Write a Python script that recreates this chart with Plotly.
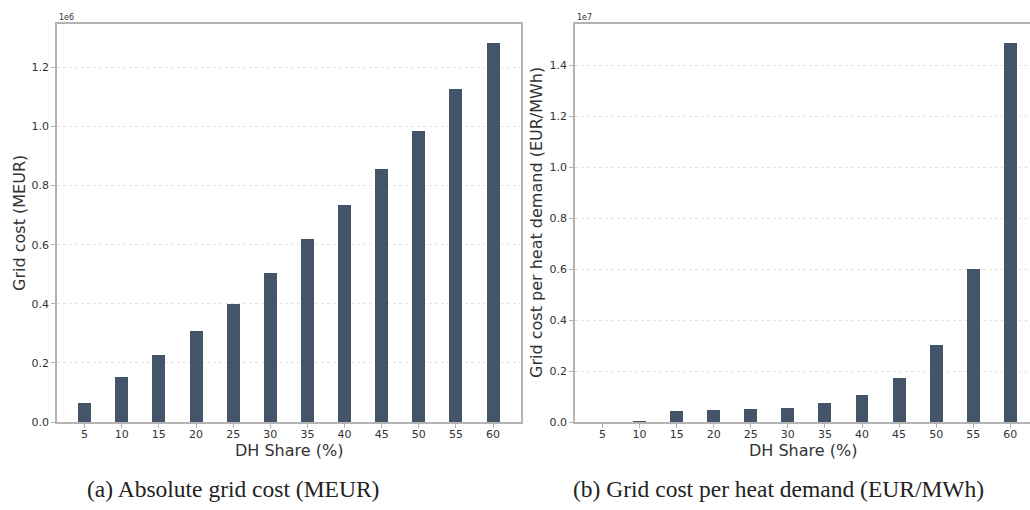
import plotly.graph_objects as go

# ---- data ----
dh_share = ["5", "10", "15", "20", "25", "30", "35", "40", "45", "50", "55", "60"]
grid_cost = [66000, 153000, 229000, 308000, 401000, 505000, 619000, 735000,
             856000, 986000, 1128000, 1283000]
cost_per_heat = [3000, 50000, 465000, 480000, 515000, 570000, 750000, 1070000,
                 1730000, 3050000, 6030000, 14900000]
left_ticks = [0, 200000, 400000, 600000, 800000, 1000000, 1200000]
left_ticktext = ["0.0", "0.2", "0.4", "0.6", "0.8", "1.0", "1.2"]
right_ticks = [0, 2000000, 4000000, 6000000, 8000000, 10000000, 12000000, 14000000]
right_ticktext = ["0.0", "0.2", "0.4", "0.6", "0.8", "1.0", "1.2", "1.4"]
captions = ["(a) Absolute grid cost (MEUR)", "(b) Grid cost per heat demand (EUR/MWh)"]

# the figure is a little wider than the 1030 px picture: the right panel's
# right edge falls outside it (clipped by a 1030x510 container), as in the reference
W, H = 1040, 510
VIEW_W, VIEW_H = 1030, 510
BAR = "#455569"
SPINE = "#b4b4b4"
TXT = "#333333"

def px(x):
    return x / W

def py(y):
    return 1 - y / H

fig = go.Figure()
fig.add_trace(go.Bar(x=dh_share, y=grid_cost, width=0.35, marker_color=BAR,
                     marker_line_width=0, xaxis="x", yaxis="y", showlegend=False))
fig.add_trace(go.Bar(x=dh_share, y=cost_per_heat, width=0.35, marker_color=BAR,
                     marker_line_width=0, xaxis="x2", yaxis="y2", showlegend=False))

tickfont = dict(family="DejaVu Sans", size=11, color=TXT)
common_x = dict(type="category", showgrid=False, ticks="outside", ticklen=4,
                tickcolor=SPINE, tickfont=tickfont, ticklabelstandoff=-3,
                showline=True, linecolor=SPINE, linewidth=1.5, mirror=True, zeroline=False)
common_y = dict(showgrid=True, gridcolor="#e2e2e2", griddash="dot", gridwidth=1,
                ticks="outside", ticklen=4, tickcolor=SPINE, tickfont=tickfont,
                showline=True, linecolor=SPINE, linewidth=1.5, mirror=True, zeroline=False)

L1, R1, L2, R2, TOP, BOT = 57, 520.7, 575, 1037.8, 24, 428

fig.update_layout(
    width=W, height=H,
    margin=dict(l=0, r=0, t=0, b=0),
    paper_bgcolor="white", plot_bgcolor="white",
    bargap=0,
    xaxis=dict(domain=[px(L1), px(R1)], range=[-0.7425, 11.7425], anchor="y", **common_x),
    yaxis=dict(domain=[py(BOT), py(TOP)], range=[0, max(grid_cost) * 1.05], anchor="x",
               tickvals=left_ticks, ticktext=left_ticktext, **common_y),
    xaxis2=dict(domain=[px(L2), px(R2)], range=[-0.7425, 11.7425], anchor="y2", **common_x),
    yaxis2=dict(domain=[py(BOT), py(TOP)], range=[0, max(cost_per_heat) * 1.05], anchor="x2",
                tickvals=right_ticks, ticktext=right_ticktext, **common_y),
)

def note(x, y, text, size, family="DejaVu Sans", angle=0, xanchor="center", color=TXT):
    return dict(x=px(x), y=py(y), text=text, showarrow=False, textangle=angle,
                xref="paper", yref="paper", xanchor=xanchor, yanchor="middle",
                font=dict(family=family, size=size, color=color))

ann = [
    note(288.5, 457, "DH Share (%)", 16),
    note(803, 457, "DH Share (%)", 16),
    note(20, 226, "Grid cost (MEUR)", 16, angle=-90),
    note(537, 226, "Grid cost per heat demand (EUR/MWh)", 16, angle=-90),
    note(57, 18, "1e6", 8, xanchor="left"),
    note(575, 18, "1e7", 8, xanchor="left"),
    note(233, 496, captions[0], 23.5, family="Liberation Serif", color="#222222"),
    note(778, 496, captions[1], 23.5, family="Liberation Serif", color="#222222"),
]
fig.update_layout(annotations=ann)

post = (
    "document.documentElement.style.margin='0';"
    "document.body.style.margin='0';"
    "document.documentElement.style.overflow='hidden';"
    "document.body.style.overflow='hidden';"
    "var gd=document.getElementById('{plot_id}');"
    "var p=gd.parentElement;"
    "p.style.width='%dpx';p.style.height='%dpx';p.style.overflow='hidden';"
    "p.style.position='relative';"
) % (VIEW_W, VIEW_H)

fig.write_html("out.html", config={"displayModeBar": False}, post_script=post)
